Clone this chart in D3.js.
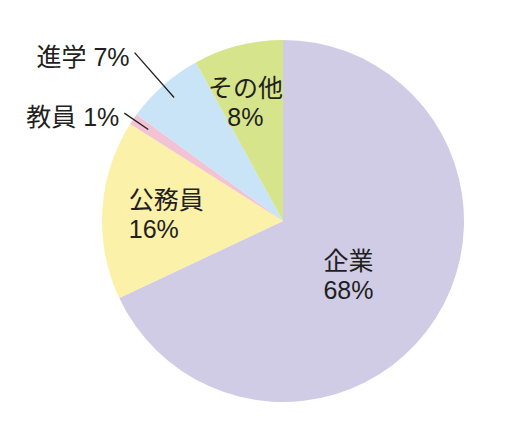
<!DOCTYPE html>
<html>
<head>
<meta charset="utf-8">
<script src="https://cdn.jsdelivr.net/npm/d3@7"></script>
<style>
  body { margin: 0; background: #fff; }
  text { font-family: "Liberation Sans", "Noto Sans CJK JP", sans-serif; fill: #231f20; }
</style>
</head>
<body>
<div id="chart"></div>
<script>
// --- Data
const categories = ['企業', '公務員', '教員', '進学', 'その他'];
const shares = [68, 16, 1, 7, 8];
const colors = ['#d0cce6', '#fbf1a9', '#f2c3d5', '#c9e4f6', '#d6e48b'];

// label placement: inside labels sit on a ring, outside ones get a leader line
const outside = { '教員': [0.9, 1.06], '進学': [0.91, 1.24] };
const insideRing = { '企業': 0.5, '公務員': 0.66, 'その他': 0.68 };
const insideNudge = { '企業': [-11, 6], '公務員': [-35, 0], 'その他': [-7, 0] };
const insideAnchor = { '企業': 'middle', '公務員': 'start', 'その他': 'middle' };

const width = 505;
const height = 433;
const cx = 283;
const cy = 221;
const radius = 181;
const fontSize = '25px';

const svg = d3.select('#chart')
  .append('svg')
  .attr('width', width)
  .attr('height', height)
  .attr('viewBox', [0, 0, width, height]);

const data = categories.map((name, i) => ({ name: name, value: shares[i], color: colors[i] }));

const pie = d3.pie()
  .value(d => d.value)
  .sort(null);

const arcs = pie(data);

const arc = d3.arc()
  .innerRadius(0)
  .outerRadius(radius);

const g = svg.append('g')
  .attr('transform', `translate(${cx},${cy})`);

g.selectAll('path')
  .data(arcs)
  .join('path')
  .attr('d', arc)
  .attr('fill', d => d.data.color);

// point on the mid angle of a slice at a given fraction of the radius
const ringPoint = (d, k) => d3.arc().innerRadius(radius * k).outerRadius(radius * k).centroid(d);

// inside labels, two lines
arcs.filter(d => insideRing[d.data.name] !== undefined).forEach(d => {
  const [x, y] = ringPoint(d, insideRing[d.data.name]);
  const [nx, ny] = insideNudge[d.data.name];
  const anchor = insideAnchor[d.data.name];
  g.append('text')
    .attr('x', x + nx)
    .attr('y', y + ny - 14)
    .attr('dy', '0.36em')
    .attr('text-anchor', anchor)
    .style('font-size', fontSize)
    .text(d.data.name);
  g.append('text')
    .attr('x', x + nx)
    .attr('y', y + ny + 15)
    .attr('dy', '0.36em')
    .attr('text-anchor', anchor)
    .style('font-size', fontSize)
    .text(d.data.value + '%');
});

// outside labels with leader lines
arcs.filter(d => outside[d.data.name] !== undefined).forEach(d => {
  const [k0, k1] = outside[d.data.name];
  const p0 = ringPoint(d, k0);
  const p1 = ringPoint(d, k1);
  g.append('line')
    .attr('x1', p0[0]).attr('y1', p0[1])
    .attr('x2', p1[0]).attr('y2', p1[1])
    .attr('stroke', '#231f20')
    .attr('stroke-width', 1.3);
  g.append('text')
    .attr('x', p1[0] - 5)
    .attr('y', p1[1] + 4)
    .attr('dy', '0.36em')
    .attr('text-anchor', 'end')
    .style('font-size', fontSize)
    .text(d.data.name + ' ' + d.data.value + '%');
});
</script>
</body>
</html>
